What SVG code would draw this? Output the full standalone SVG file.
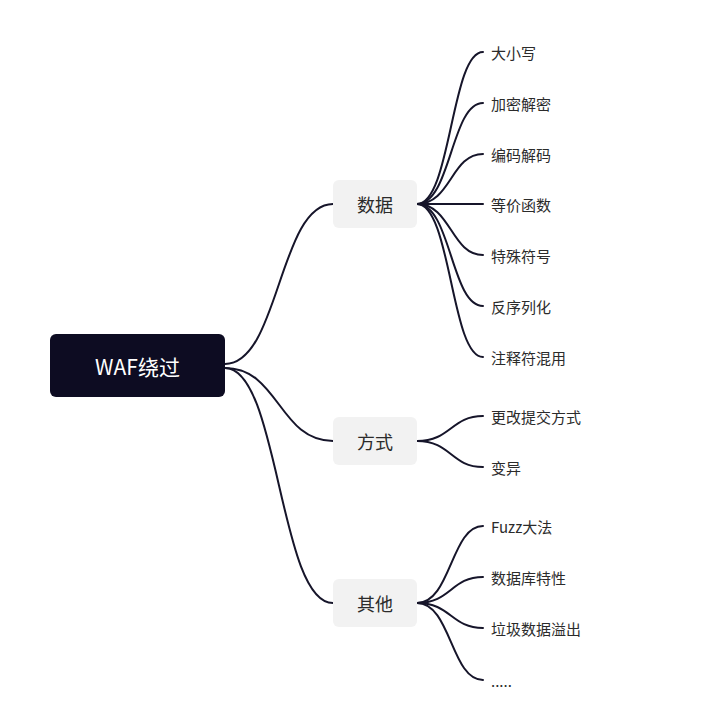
<svg xmlns="http://www.w3.org/2000/svg" width="703" height="703" viewBox="0 0 703 703">
<style>
.c{fill:none;stroke:#16152a;stroke-width:2;stroke-linecap:round}
.b{fill:#f2f2f2}
.bt{font-family:"Noto Sans CJK SC","Noto Sans",sans-serif;font-size:18px;fill:#2b2b2b;text-anchor:middle;dominant-baseline:central}
.lt{font-family:"Noto Sans CJK SC","Noto Sans",sans-serif;font-size:15px;fill:#2b2b2b;dominant-baseline:central}
</style>
<rect width="703" height="703" fill="#fff"/>
<g id="connectors">
<path class="c" d="M225 364 C279 364 279 204 333 204"/>
<path class="c" d="M225 368 C279 368 279 441 333 441"/>
<path class="c" d="M225 368 C279 368 279 603 333 603"/>
<path class="c" d="M417 204 C451 204 451 52 483 52"/>
<path class="c" d="M417 204 C451 204 451 103 483 103"/>
<path class="c" d="M417 204 C451 204 451 154 483 154"/>
<path class="c" d="M417 204 L483 204"/>
<path class="c" d="M417 204 C451 204 451 255 483 255"/>
<path class="c" d="M417 204 C451 204 451 306 483 306"/>
<path class="c" d="M417 204 C451 204 451 357 483 357"/>
<path class="c" d="M417 441 C451 441 451 416 483 416"/>
<path class="c" d="M417 441 C451 441 451 467 483 467"/>
<path class="c" d="M417 603 C451 603 451 526 483 526"/>
<path class="c" d="M417 603 C451 603 451 577 483 577"/>
<path class="c" d="M417 603 C451 603 451 628 483 628"/>
<path class="c" d="M417 603 C451 603 451 680 483 680"/>
</g>
<g id="root">
<rect x="50" y="334" width="175" height="63" rx="6" fill="#0d0c22"/>
<text x="137.5" y="366" font-family="'Noto Sans CJK SC','Noto Sans',sans-serif" font-size="21" fill="#fff" text-anchor="middle" dominant-baseline="central">WAF绕过</text>
</g>
<g id="n-shuju"><rect class="b" x="333" y="180" width="84" height="48" rx="6"/><text class="bt" x="375" y="204">数据</text></g>
<g id="n-fangshi"><rect class="b" x="333" y="417" width="84" height="48" rx="6"/><text class="bt" x="375" y="441">方式</text></g>
<g id="n-qita"><rect class="b" x="333" y="579" width="84" height="48" rx="6"/><text class="bt" x="375" y="603">其他</text></g>
<g id="l1"><text class="lt" x="491" y="52">大小写</text></g>
<g id="l2"><text class="lt" x="491" y="103">加密解密</text></g>
<g id="l3"><text class="lt" x="491" y="154">编码解码</text></g>
<g id="l4"><text class="lt" x="491" y="204">等价函数</text></g>
<g id="l5"><text class="lt" x="491" y="255">特殊符号</text></g>
<g id="l6"><text class="lt" x="491" y="306">反序列化</text></g>
<g id="l7"><text class="lt" x="491" y="357">注释符混用</text></g>
<g id="l8"><text class="lt" x="491" y="416">更改提交方式</text></g>
<g id="l9"><text class="lt" x="491" y="467">变异</text></g>
<g id="l10"><text class="lt" x="491" y="526">Fuzz大法</text></g>
<g id="l11"><text class="lt" x="491" y="577">数据库特性</text></g>
<g id="l12"><text class="lt" x="491" y="628">垃圾数据溢出</text></g>
<g id="l13"><text class="lt" x="491" y="680">.....</text></g>
</svg>
